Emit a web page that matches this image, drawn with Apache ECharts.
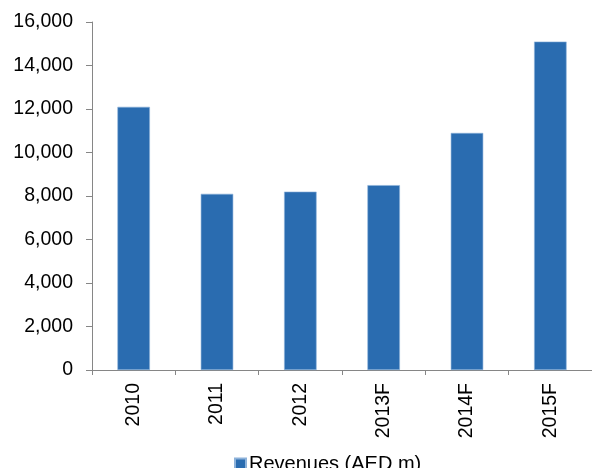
<!DOCTYPE html>
<html>
<head>
<meta charset="utf-8">
<script src="https://cdn.jsdelivr.net/npm/echarts@6/dist/echarts.min.js"></script>
<style>
  html, body { margin: 0; padding: 0; background: #fff; }
  #chart { width: 592px; height: 468px; }
</style>
</head>
<body>
<div id="chart"></div>
<script>
// Annual revenues, actual and forecast
const categories = ['2010', '2011', '2012', '2013F', '2014F', '2015F'];
const revenues = [12100, 8100, 8200, 8500, 10900, 15100];
const seriesName = 'Revenues (AED m)';
const yTicks = { min: 0, max: 16000, interval: 2000 };

const chart = echarts.init(document.getElementById('chart'), null, { renderer: 'canvas' });
const font = 'Arial, "Liberation Sans", sans-serif';
const axisGray = '#868686';

chart.setOption({
  animation: false,
  backgroundColor: '#fff',
  grid: { left: 92, top: 22, width: 502, height: 348, containLabel: false },
  legend: {
    data: [seriesName],
    left: 229,
    top: 449,
    itemWidth: 11,
    itemHeight: 11,
    itemGap: 3,
    icon: 'rect',
    textStyle: { fontFamily: font, fontSize: 20, color: '#000', padding: [0, 0, 0, -2] }
  },
  xAxis: {
    type: 'category',
    data: categories,
    boundaryGap: true,
    axisLine: { lineStyle: { color: axisGray, width: 1 } },
    axisTick: { show: true, length: 5, alignWithLabel: false, lineStyle: { color: axisGray } },
    axisLabel: {
      rotate: 90,
      margin: 13,
      fontFamily: font,
      fontSize: 19.5,
      color: '#000'
    },
    splitLine: { show: false }
  },
  yAxis: {
    type: 'value',
    min: yTicks.min,
    max: yTicks.max,
    interval: yTicks.interval,
    axisLine: { show: true, lineStyle: { color: axisGray, width: 1 } },
    axisTick: { show: true, length: 6, lineStyle: { color: axisGray } },
    axisLabel: {
      margin: 19,
      fontFamily: font,
      fontSize: 19.5,
      color: '#000',
      formatter: v => v.toLocaleString('en-US')
    },
    splitLine: { show: false }
  },
  series: [{
    name: seriesName,
    type: 'bar',
    data: revenues,
    barWidth: '39%',
    itemStyle: { color: '#2A6CB0', borderColor: '#8DB2DA', borderWidth: 0.6 }
  }]
});
</script>
</body>
</html>
